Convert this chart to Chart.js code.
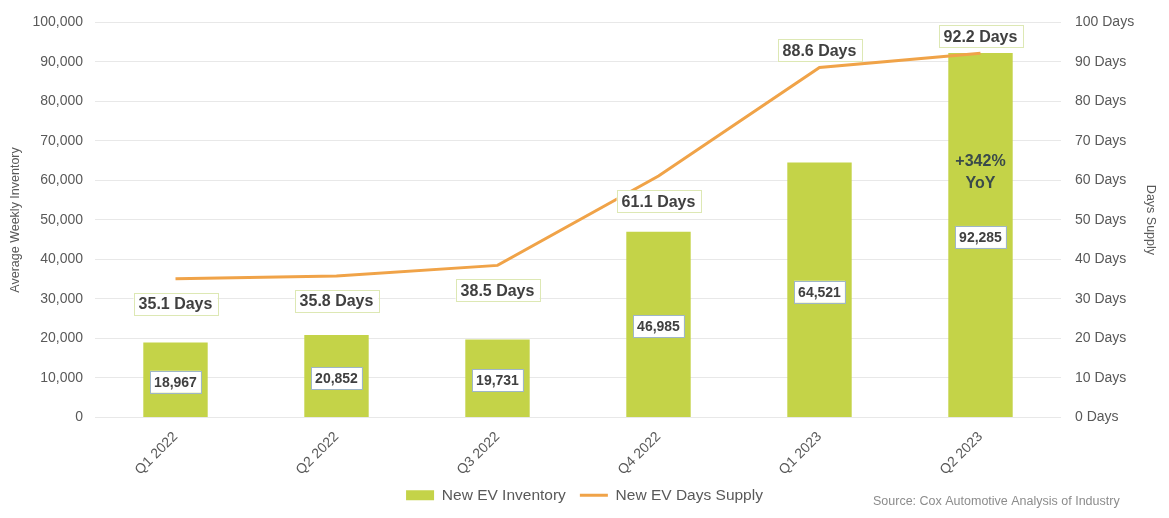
<!DOCTYPE html>
<html>
<head>
<meta charset="utf-8">
<script src="https://cdn.jsdelivr.net/npm/chart.js@4"></script>
<style>
  html, body { margin: 0; padding: 0; background: #fff; }
  #wrap { width: 1169px; height: 518px; }
</style>
</head>
<body>
<div id="wrap"><canvas id="evChart"></canvas></div>
<script>
const quarters = ["Q1 2022", "Q2 2022", "Q3 2022", "Q4 2022", "Q1 2023", "Q2 2023"];
const inventory = [18967, 20852, 19731, 46985, 64521, 92285];
const daysSupply = [35.1, 35.8, 38.5, 61.1, 88.6, 92.2];
const daysLabelAbove = [false, false, false, false, true, true];

const GREEN = "rgb(196, 211, 72)";
const ORANGE = "rgb(240, 163, 72)";
const GREY = "#595959";
const FONT = "'Liberation Sans', Arial, sans-serif";

function boxLabel(ctx, text, x, y, font, border, pad) {
  ctx.font = font;
  const w = ctx.measureText(text).width + pad * 2;
  const h = 22;
  ctx.fillStyle = "#fff";
  ctx.fillRect(x - w / 2, y - h / 2, w, h);
  ctx.strokeStyle = border;
  ctx.lineWidth = 1;
  ctx.strokeRect(Math.round(x - w / 2) + 0.5, Math.round(y - h / 2) + 0.5, Math.round(w), h);
  ctx.fillStyle = "#404040";
  ctx.textAlign = "center";
  ctx.textBaseline = "middle";
  ctx.fillText(text, x, y + 1);
}

const labelPlugin = {
  id: "labels",
  afterDatasetsDraw(chart) {
    const ctx = chart.ctx;
    ctx.save();
    const bars = chart.getDatasetMeta(0).data;
    bars.forEach((bar, i) => {
      const mid = (bar.y + bar.base) / 2;
      boxLabel(ctx, inventory[i].toLocaleString("en-US"), bar.x, mid + 2,
        "bold 14px " + FONT, "#9fb6c8", 4);
    });
    const pts = chart.getDatasetMeta(1).data;
    pts.forEach((pt, i) => {
      const y = daysLabelAbove[i] ? pt.y - 17 : pt.y + 25;
      boxLabel(ctx, daysSupply[i] + " Days", pt.x, y,
        "bold 16px " + FONT, "#dde8b4", 5);
    });
    // YoY note on the last bar
    const last = bars[bars.length - 1];
    ctx.fillStyle = "#3a4a4a";
    ctx.font = "bold 16px " + FONT;
    ctx.textAlign = "center";
    ctx.fillText("+342%", last.x, 162);
    ctx.fillText("YoY", last.x, 184);
    // source
    ctx.fillStyle = "#8c8c8c";
    ctx.font = "12.5px " + FONT;
    ctx.textAlign = "left";
    ctx.fillText("Source: Cox Automotive Analysis of Industry", 873, 502);
    ctx.restore();
  }
};

new Chart(document.getElementById("evChart"), {
  data: {
    labels: quarters,
    datasets: [
      {
        type: "bar",
        label: "New EV Inventory",
        data: inventory,
        backgroundColor: GREEN,
        yAxisID: "y",
        barPercentage: 0.4,
        categoryPercentage: 1.0,
        order: 2
      },
      {
        type: "line",
        label: "New EV Days Supply",
        data: daysSupply,
        borderColor: ORANGE,
        backgroundColor: ORANGE,
        borderWidth: 3,
        pointRadius: 0,
        tension: 0,
        yAxisID: "y1",
        order: 1
      }
    ]
  },
  options: {
    responsive: true,
    maintainAspectRatio: false,
    animation: false,
    layout: { padding: { top: 12, bottom: 5 } },
    plugins: {
      tooltip: { enabled: false },
      legend: {
        position: "bottom",
        labels: {
          color: GREY,
          font: { family: FONT, size: 15.5 },
          usePointStyle: true,
          pointStyleWidth: 28,
          boxHeight: 10,
          padding: 14,
          generateLabels(chart) {
            return chart.data.datasets.map((ds, i) => ({
              text: ds.label,
              fillStyle: i === 0 ? GREEN : ORANGE,
              strokeStyle: i === 0 ? GREEN : ORANGE,
              lineWidth: i === 0 ? 0 : 3,
              pointStyle: i === 0 ? "rect" : "line",
              fontColor: GREY,
              datasetIndex: i
            }));
          }
        }
      }
    },
    scales: {
      x: {
        grid: { display: false },
        border: { display: false },
        ticks: {
          color: GREY,
          font: { family: FONT, size: 14 },
          maxRotation: 45,
          minRotation: 45
        },
        afterFit(scale) { scale.height = 56; }
      },
      y: {
        position: "left",
        min: 0,
        max: 100000,
        ticks: {
          stepSize: 10000,
          color: GREY,
          padding: 12,
          font: { family: FONT, size: 14 },
          callback: v => v.toLocaleString("en-US")
        },
        grid: { color: "#e8e8e8", drawTicks: false },
        border: { display: false },
        title: {
          display: true,
          text: "Average Weekly Inventory",
          color: GREY,
          padding: { top: 8, bottom: 0 },
          font: { family: FONT, size: 12.5 }
        },
        afterFit(scale) { scale.width = 95; }
      },
      y1: {
        position: "right",
        min: 0,
        max: 100,
        ticks: {
          stepSize: 10,
          color: GREY,
          font: { family: FONT, size: 14 },
          padding: 14,
          callback: v => v + " Days"
        },
        grid: { display: false, drawTicks: false },
        border: { display: false },
        title: {
          display: true,
          text: "Days Supply",
          color: GREY,
          padding: { top: 11, bottom: 0 },
          font: { family: FONT, size: 12.5 }
        },
        afterFit(scale) { scale.width = 108; }
      }
    }
  },
  plugins: [labelPlugin]
});
</script>
</body>
</html>
